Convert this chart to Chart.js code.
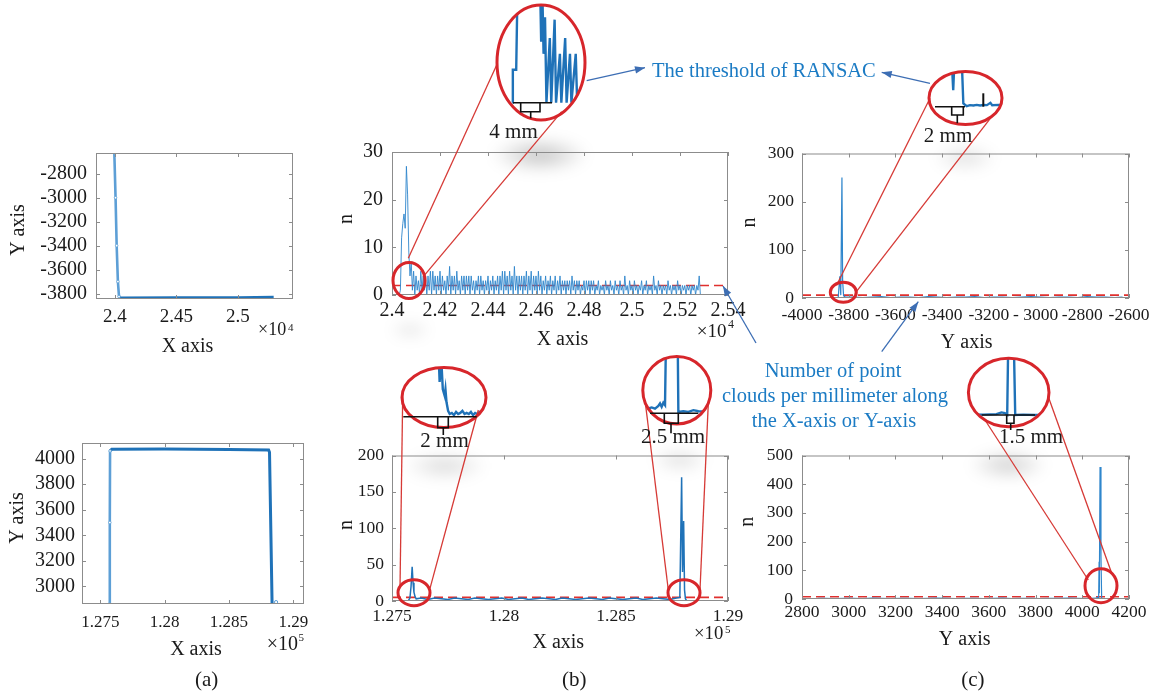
<!DOCTYPE html>
<html>
<head>
<meta charset="utf-8">
<script src="https://cdn.jsdelivr.net/npm/chart.js@4.4.0/dist/chart.umd.min.js"></script>
<style>
  body { margin:0; background:#fff; }
  #fig { position:relative; width:1160px; height:699px; overflow:hidden; background:#fff; }
  .inset { position:absolute; clip-path:ellipse(50% 50% at 50% 50%); background:#fff; z-index:5; }
  .smudge { position:absolute; border-radius:50%; filter:blur(7px); }
  #overlay { position:absolute; left:0; top:0; z-index:10; pointer-events:none; }
</style>
</head>
<body>
<div id="fig"><canvas id="overlay" width="1160" height="699"></canvas></div>
<script>
// ---------- data (mm and counts) ----------

// (a) top: point cloud of the corner, X / Y in mm
var aTopWallX  = [23995, 24005, 24014, 24024, 24033];
var aTopWallY  = [-2627, -3000, -3400, -3700, -3825];
var aTopFloorX = [24033, 24045, 24500, 25000, 25290];
var aTopFloorY = [-3825, -3836, -3835, -3834, -3830];

// (a) bottom: point cloud of the frame
var aBotLeftX  = [127572, 127574, 127576];
var aBotLeftY  = [2863, 3500, 4060];
var aBotEdgeX  = [127576, 127590, 128000, 128500, 128808, 128815, 128835];
var aBotEdgeY  = [4060, 4074, 4075, 4072, 4068, 4050, 2863];
var aBotStrayX = [128866];
var aBotStrayY = [2878];

// (b) top: points per mm along X, 5 mm bins starting at 24030
var bTopStart = 24030, bTopStep = 5;
var bTopN = [
  0,1,12,15,17,14,27,21,9,4,7,1,5,0,4,1,3,0,5,1,
  4,1,4,0,4,1,5,0,5,1,4,0,4,1,5,0,4,1,3,0,
  4,1,6,0,4,1,4,0,5,1,3,0,4,1,4,0,4,1,4,0,
  4,1,3,0,3,1,4,0,4,1,3,0,3,1,4,0,3,1,4,0,
  3,1,4,0,4,1,5,0,5,1,4,0,5,1,4,0,6,1,4,0,
  4,1,4,0,4,1,5,0,4,1,5,0,4,1,4,0,5,1,4,0,
  3,1,4,0,3,1,4,0,3,1,4,0,3,1,4,0,3,1,3,0,
  3,1,3,0,4,1,3,0,3,1,3,0,2,1,3,0,3,1,3,0,
  3,1,3,0,2,1,3,0,2,1,2,0,3,1,2,0,3,1,2,0,
  3,1,2,0,3,1,2,0,4,1,2,0,3,1,2,0,3,1,2,0,
  2,1,3,0,2,1,3,0,2,1,2,0,4,1,2,0,3,1,2,0,
  2,1,2,0,3,1,2,0,2,1,2,0,3,1,2,0,2,1,2,0,
  2,1,2,0,2,1,2,0,2,1,4,0
];
var bTopThreshold = 2;

// (b) bottom: points per mm along X
var bBotX = [127572,127580,127585,127590,127594,127598,127603,127608,
  127630,127660,127690,127720,127750,127780,127810,127840,127870,127900,
  127930,127960,127990,128020,128050,128080,128110,128140,128170,128200,
  128230,128260,128290,128320,128350,128380,128410,128440,128470,128500,
  128530,128560,128590,128620,128650,128680,128710,128740,128770,
  128785,128793,128797,128802,128806,128810,128816,128830];
var bBotN = [0,4,20,47,25,12,6,3,
  4,2,4,3,2,4,3,2,4,3,
  2,3,4,2,3,4,2,3,4,3,
  2,4,3,2,3,4,3,2,4,3,
  2,3,4,2,3,4,3,2,4,
  5,170,40,110,15,3,0,0];
var bBotThreshold = 5;

// (c) top: points per mm along Y
var cTopY = [-3850,-3845,-3838,-3834,-3829,-3826,-3822,-3815,
  -3780,-3740,-3700,-3660,-3620,-3580,-3540,-3500,-3460,-3420,-3380,-3340,
  -3300,-3260,-3220,-3180,-3140,-3100,-3060,-3020,-2980,-2940,-2900,-2860,
  -2820,-2780,-2740,-2700,-2660,-2630,-2625];
var cTopN = [0,1,45,6,250,35,5,2,
  2,1,2,3,1,2,2,1,3,2,1,2,
  2,3,1,2,2,1,2,3,2,1,2,2,
  1,3,2,2,1,2,0];
var cTopThreshold = 6;

// (c) bottom: points per mm along Y
var cBotY = [2860,2870,2900,2940,2980,3020,3060,3100,3140,3180,3220,3260,
  3300,3340,3380,3420,3460,3500,3540,3580,3620,3660,3700,3740,3780,3820,
  3860,3900,3940,3980,4020,4040,4060,4066,4070,4072,4073,4076,4080,4083,4095];
var cBotN = [0,2,2,1,2,2,1,3,2,1,2,2,
  1,2,3,2,1,2,2,1,2,3,1,2,2,1,
  2,2,3,2,1,2,3,6,1,130,20,460,150,0,0];
var cBotThreshold = 8;

// magnified views (relative mm, n)
var insB1X = [3.2,3.3,4.0,4.3,8.96,9.2,9.4,9.7,10.0,10.3,11.0,11.3,12.0,12.3,13.1,13.4,14.2,14.5,15.2,15.5,16.4,16.7,17.5];
var insB1N = [0,2.7,2.7,10,10,5,10,4,7,0,5.3,0,6.8,0,4.0,0,5.3,0,4.0,0,4.0,0,0];
var insB2X = [6.9,7.1,7.4,7.7,8.05,8.2,8.4,8.7,9.0,9.4,9.8,10.2,10.6,11.0,11.4,11.8,12.2,12.6,13.0,13.4,13.8,14.2,14.6,15.0,15.5];
var insB2N = [60,33,55,26,20,26,14,6,3,4,2,5,3,4,6,3,4,3,5,2,4,3,5,4,3];
var insB3X = [0.5,0.95,1.55,2.14,2.74,3.04,3.33,3.63,3.93,4.11,6.19,6.31,7.2,8.1,9.0,9.9,11];
var insB3N = [3,3.8,4.6,3.6,5.7,7.7,5.1,8.2,6.4,60,60,1.2,1.7,1.2,2.5,1.7,1.5];
var insC1X = [3.5,3.86,4.14,4.37,5.58,5.87,6.44,7.0,7.59,8.16,8.74,9.3,9.9,10.5,10.8,11.9,12.5];
var insC1N = [50,50,16.7,50,50,3.4,0.7,1.7,1.4,2.0,1.4,1.8,1.7,4.0,1.7,2.0,1.8];
var insC2X = [0,3.06,4.42,5.78,6.8,7.48,7.96,8.16,9.32,9.59,11.2,13.6,16.4];
var insC2N = [0.8,0.7,1.0,1.3,3.0,2.3,0.7,70,70,0.3,0.7,0.3,0.5];

// ---------- helpers ----------
var FONT = '"Liberation Serif", "Times New Roman", serif';
var BLUE = '#1f72b8', MIDBLUE = '#2f86cc', LIGHTBLUE = '#5d9fd6', RED = '#e0302e';
Chart.defaults.font.family = FONT;

var pts = function(xs, ys){
    var out = [];
    for (var i = 0; i < xs.length; i++) out.push({x: xs[i], y: ys[i]});
    return out;
};
var binPts = function(start, step, ns){
    var out = [];
    for (var i = 0; i < ns.length; i++) out.push({x: start + i*step, y: ns[i]});
    return out;
};
var lineSet = function(data, color, width){
    return {data: data, borderColor: color, borderWidth: width, pointRadius: 0, fill: false, tension: 0};
};
var threshSet = function(xmin, xmax, v){
    return {data: [{x: xmin, y: v}, {x: xmax, y: v}], borderColor: RED, borderWidth: 1.6,
            borderDash: [9, 5], pointRadius: 0, fill: false};
};

// matlab style box with inward ticks
var boxPlugin = {
    id: 'box',
    afterDraw: function(chart){
        var ctx = chart.ctx, a = chart.chartArea, sx = chart.scales.x, sy = chart.scales.y;
        ctx.save();
        ctx.strokeStyle = '#8c8c8c';
        ctx.lineWidth = 1;
        ctx.strokeRect(a.left + 0.5, a.top + 0.5, a.right - a.left - 1, a.bottom - a.top - 1);
        ctx.beginPath();
        sx.ticks.forEach(function(t){
            var p = Math.round(sx.getPixelForValue(t.value)) + 0.5;
            ctx.moveTo(p, a.bottom); ctx.lineTo(p, a.bottom - 4);
            ctx.moveTo(p, a.top); ctx.lineTo(p, a.top + 4);
        });
        sy.ticks.forEach(function(t){
            var p = Math.round(sy.getPixelForValue(t.value)) + 0.5;
            ctx.moveTo(a.left, p); ctx.lineTo(a.left + 4, p);
            ctx.moveTo(a.right, p); ctx.lineTo(a.right - 4, p);
        });
        ctx.stroke();
        ctx.restore();
    }
};

var fig = document.getElementById('fig');

var mainChart = function(p){
    var YW = 70, PT = 12, PR = 34, XH = 34;
    var w = p.box[2] - p.box[0], h = p.box[3] - p.box[1];
    var cv = document.createElement('canvas');
    cv.width = Math.round(w + YW + PR);
    cv.height = Math.round(h + PT + XH);
    cv.style.position = 'absolute';
    cv.style.left = (p.box[0] - YW) + 'px';
    cv.style.top = (p.box[1] - PT) + 'px';
    fig.appendChild(cv);
    new Chart(cv, {
        type: 'line',
        data: {datasets: p.datasets},
        options: {
            responsive: false, animation: false, events: [],
            layout: {padding: {top: PT, right: cv.width - YW - w, left: 0, bottom: 0}},
            plugins: {legend: {display: false}, tooltip: {enabled: false}},
            scales: {
                x: {
                    type: 'linear', min: p.x.min, max: p.x.max,
                    grid: {display: false, drawTicks: false}, border: {display: false},
                    afterBuildTicks: function(s){ s.ticks = p.x.ticks.map(function(v){ return {value: v}; }); },
                    afterFit: function(s){ s.height = cv.height - PT - h; },
                    ticks: {autoSkip: false, maxRotation: 0, minRotation: 0, padding: p.x.pad, color: '#1a1a1a',
                            font: {family: FONT, size: p.x.size},
                            callback: function(v, i){ return p.x.labels[i]; }}
                },
                y: {
                    type: 'linear', min: p.y.min, max: p.y.max,
                    grid: {display: false, drawTicks: false}, border: {display: false},
                    afterBuildTicks: function(s){ s.ticks = p.y.ticks.map(function(v){ return {value: v}; }); },
                    afterFit: function(s){ s.width = YW; },
                    ticks: {autoSkip: false, padding: p.y.pad, color: '#1a1a1a',
                            font: {family: FONT, size: p.y.size},
                            callback: function(v, i){ return p.y.labels[i]; }}
                }
            }
        },
        plugins: [boxPlugin]
    });
};

var insetChart = function(p){
    var div = document.createElement('div');
    div.className = 'inset';
    var w = Math.round(2*p.rx), h = Math.round(2*p.ry);
    div.style.left = (p.cx - w/2) + 'px';
    div.style.top = (p.cy - h/2) + 'px';
    div.style.width = w + 'px';
    div.style.height = h + 'px';
    var cv = document.createElement('canvas');
    cv.width = w; cv.height = h;
    div.appendChild(cv);
    fig.appendChild(div);
    new Chart(cv, {
        type: 'line',
        data: {datasets: [lineSet(pts(p.xs, p.ns), BLUE, 2.4)]},
        options: {
            responsive: false, animation: false, events: [],
            layout: {padding: 0},
            plugins: {legend: {display: false}, tooltip: {enabled: false}},
            scales: {
                x: {type: 'linear', display: false, min: p.xr[0], max: p.xr[1]},
                y: {type: 'linear', display: false, min: p.yr[0], max: p.yr[1]}
            }
        }
    });
};

// soft grey smudges present in the scanned figure
var smudges = [[540,155,100,36,0.24],[410,330,44,20,0.10],[445,466,86,30,0.14],
               [680,460,60,26,0.12],[965,158,66,28,0.12],[1008,465,80,32,0.18]];
smudges.forEach(function(s){
    var d = document.createElement('div');
    d.className = 'smudge';
    d.style.left = (s[0] - s[2]/2) + 'px';
    d.style.top = (s[1] - s[3]/2) + 'px';
    d.style.width = s[2] + 'px';
    d.style.height = s[3] + 'px';
    d.style.background = 'radial-gradient(ellipse at center, rgba(0,0,0,' + s[4] + ') 0%, rgba(0,0,0,0) 70%)';
    fig.appendChild(d);
});

// ---------- panels ----------
var wallStyle = {pointRadius: 1.3, pointBackgroundColor: '#fff', pointBorderColor: LIGHTBLUE, pointBorderWidth: 0.8};
mainChart({
    box: [96, 144, 293, 299],
    x: {min: 23846, max: 25447, ticks: [24000, 24500, 25000], labels: ['2.4', '2.45', '2.5'], size: 19, pad: 7},
    y: {min: -3845, max: -2627, ticks: [-3800, -3600, -3400, -3200, -3000, -2800],
        labels: ['-3800', '-3600', '-3400', '-3200', '-3000', '-2800'], size: 20, pad: 9},
    datasets: [
        Object.assign(lineSet(pts(aTopWallX, aTopWallY), LIGHTBLUE, 2.6), wallStyle),
        lineSet(pts(aTopFloorX, aTopFloorY), BLUE, 3)
    ]
});
mainChart({
    box: [82, 436, 304, 604],
    x: {min: 127358, max: 129083, ticks: [127500, 128000, 128500, 129000], labels: ['1.275', '1.28', '1.285', '1.29'], size: 17, pad: 8},
    y: {min: 2863, max: 4122, ticks: [3000, 3200, 3400, 3600, 3800, 4000],
        labels: ['3000', '3200', '3400', '3600', '3800', '4000'], size: 20, pad: 7},
    datasets: [
        Object.assign(lineSet(pts(aBotLeftX, aBotLeftY), LIGHTBLUE, 2.6), wallStyle),
        lineSet(pts(aBotEdgeX, aBotEdgeY), BLUE, 3),
        {data: pts(aBotStrayX, aBotStrayY), showLine: false, pointRadius: 1.6, pointBorderColor: LIGHTBLUE, pointBackgroundColor: '#fff', pointBorderWidth: 1}
    ]
});
mainChart({
    box: [392, 143, 728, 295],
    x: {min: 24000, max: 25400, ticks: [24000, 24200, 24400, 24600, 24800, 25000, 25200, 25400],
        labels: ['2.4', '2.42', '2.44', '2.46', '2.48', '2.5', '2.52', '2.54'], size: 20, pad: 4},
    y: {min: 0, max: 30, ticks: [0, 10, 20, 30], labels: ['0', '10', '20', '30'], size: 20, pad: 9},
    datasets: [
        lineSet(binPts(bTopStart, bTopStep, bTopN), MIDBLUE, 0.9),
        threshSet(24000, 25400, bTopThreshold)
    ]
});
mainChart({
    box: [392, 449, 728, 601],
    x: {min: 127500, max: 129000, ticks: [127500, 128000, 128500, 129000], labels: ['1.275', '1.28', '1.285', '1.29'], size: 17.5, pad: 5},
    y: {min: 0, max: 200, ticks: [0, 50, 100, 150, 200], labels: ['0', '50', '100', '150', '200'], size: 17.5, pad: 8},
    datasets: [
        lineSet(pts(bBotX, bBotN), BLUE, 1.5),
        threshSet(127500, 129000, bBotThreshold)
    ]
});
mainChart({
    box: [802, 147, 1129, 298],
    x: {min: -4000, max: -2600, ticks: [-4000, -3800, -3600, -3400, -3200, -3000, -2800, -2600],
        labels: ['-4000', '-3800', '-3600', '-3400', '-3200', '- 3000', '-2800', '-2600'], size: 17.5, pad: 7},
    y: {min: 0, max: 300, ticks: [0, 100, 200, 300], labels: ['0', '100', '200', '300'], size: 17.5, pad: 8},
    datasets: [
        lineSet(pts(cTopY, cTopN), MIDBLUE, 1.2),
        threshSet(-4000, -2600, cTopThreshold)
    ]
});
mainChart({
    box: [802, 448, 1129, 599],
    x: {min: 2800, max: 4200, ticks: [2800, 3000, 3200, 3400, 3600, 3800, 4000, 4200],
        labels: ['2800', '3000', '3200', '3400', '3600', '3800', '4000', '4200'], size: 17.5, pad: 3},
    y: {min: 0, max: 500, ticks: [0, 100, 200, 300, 400, 500], labels: ['0', '100', '200', '300', '400', '500'], size: 17.5, pad: 9},
    datasets: [
        lineSet(pts(cBotY, cBotN), MIDBLUE, 1.2),
        threshSet(2800, 4200, cBotThreshold)
    ]
});

// magnified views
var insets = [
    {cx: 541,   cy: 62.5,  rx: 44,   ry: 57.5, xr: [0, 18.33], yr: [-1.42, 8],   xs: insB1X, ns: insB1N},
    {cx: 444,   cy: 397.5, rx: 42,   ry: 30,   xr: [0, 15.85], yr: [-10.1, 46],  xs: insB2X, ns: insB2N},
    {cx: 676.8, cy: 390.3, rx: 34,   ry: 33.7, xr: [0, 12.14], yr: [-8.2, 43.6], xs: insB3X, ns: insB3N},
    {cx: 965.5, cy: 98,    rx: 36.5, ry: 26.5, xr: [0, 12.48], yr: [-18.3, 35.1], xs: insC1X, ns: insC1N},
    {cx: 1008.7,cy: 392.5, rx: 40.3, ry: 34.2, xr: [0, 16.45], yr: [-11.7, 56.7], xs: insC2X, ns: insC2N}
];
insets.forEach(insetChart);

// ---------- annotations ----------
var ov = document.getElementById('overlay').getContext('2d');

var smallRings = [[409, 280.5, 16, 18], [414, 592.7, 16, 13], [684, 592.7, 16, 13], [843.3, 292.3, 13, 10], [1101, 585.7, 16, 17]];
var connectors = [
    [408.3, 258.3, 496.7, 65], [423.3, 276.7, 561.7, 111.7],
    [400, 588.3, 402.7, 396.7], [430, 588.3, 478.3, 410],
    [668.3, 590, 645, 400], [700, 590, 708.3, 403.3],
    [836.7, 285, 930, 98.3], [855, 293.3, 991.7, 116.7],
    [1088.3, 580, 985, 420], [1111.7, 573.3, 1048.3, 396.7]
];

ov.strokeStyle = '#d63a36';
ov.lineWidth = 1.3;
connectors.forEach(function(c){
    ov.beginPath(); ov.moveTo(c[0], c[1]); ov.lineTo(c[2], c[3]); ov.stroke();
});
ov.strokeStyle = '#d7262b';
ov.lineWidth = 3;
insets.forEach(function(e){
    ov.beginPath(); ov.ellipse(e.cx, e.cy, e.rx, e.ry, 0, 0, Math.PI*2); ov.stroke();
});
smallRings.forEach(function(e){
    ov.beginPath(); ov.ellipse(e[0], e[1], e[2], e[3], 0, 0, Math.PI*2); ov.stroke();
});

// baselines and brackets inside the magnified views
var brackets = [
    // baseline x1, x2, y ; bracket left, right, bottom ; stem x, stem bottom
    [513, 552, 102.7, 520.7, 540, 111.7, 530.7, 118.3],
    [935, 965, 106.7, 951.7, 963.3, 115, 957.3, 123.3],
    [403.3, 476.7, 416.7, 437.7, 448.3, 427.7, 443.3, 435],
    [650, 698.3, 413.3, 664.3, 678.3, 423.3, 671, 433.3],
    [981.7, 1035, 415, 1006.7, 1014, 423.3, 1010.7, 430]
];
ov.strokeStyle = '#111';
ov.lineWidth = 1.6;
brackets.forEach(function(b){
    ov.beginPath();
    ov.moveTo(b[0], b[2]); ov.lineTo(b[1], b[2]);
    ov.moveTo(b[3], b[2]); ov.lineTo(b[3], b[5]); ov.lineTo(b[4], b[5]); ov.lineTo(b[4], b[2]);
    ov.moveTo(b[6], b[5]); ov.lineTo(b[6], b[7]);
    ov.stroke();
});
ov.beginPath(); ov.moveTo(983.3, 93.3); ov.lineTo(983.3, 106.7); ov.lineWidth = 2; ov.stroke();

// arrows
var arrow = function(x1, y1, x2, y2){
    ov.beginPath(); ov.moveTo(x1, y1); ov.lineTo(x2, y2); ov.stroke();
    var a = Math.atan2(y2 - y1, x2 - x1), L = 10, W = 3.6;
    ov.beginPath();
    ov.moveTo(x2, y2);
    ov.lineTo(x2 - L*Math.cos(a) + W*Math.sin(a), y2 - L*Math.sin(a) - W*Math.cos(a));
    ov.lineTo(x2 - L*Math.cos(a) - W*Math.sin(a), y2 - L*Math.sin(a) + W*Math.cos(a));
    ov.closePath(); ov.fill();
};
ov.strokeStyle = '#3d6eb4';
ov.fillStyle = '#3d6eb4';
ov.lineWidth = 1.3;
arrow(586.7, 80.7, 645, 67.7);
arrow(930, 83.3, 881.7, 72.3);
arrow(756, 343, 723, 286);
arrow(881.7, 351.7, 918.3, 301.7);

// texts
var text = function(s, x, y, size, align, color){
    ov.font = size + 'px ' + FONT;
    ov.textAlign = align;
    ov.textBaseline = 'alphabetic';
    ov.fillStyle = color || '#1a1a1a';
    ov.fillText(s, x, y);
};
var vtext = function(s, x, y, size){
    ov.save();
    ov.translate(x, y);
    ov.rotate(-Math.PI/2);
    ov.font = size + 'px ' + FONT;
    ov.textAlign = 'center';
    ov.textBaseline = 'middle';
    ov.fillStyle = '#1a1a1a';
    ov.fillText(s, 0, 0);
    ov.restore();
};
var times10 = function(x, y, size, exp, ex, ey, esize){
    text('\u00d710', x, y, size, 'left');
    text(exp, ex, ey, esize, 'left');
};

text('X axis', 187.5, 351.5, 20, 'center');
vtext('Y axis', 19, 230, 20);
times10(258, 335, 18, '4', 288, 330.5, 11);
text('X axis', 196, 655, 20, 'center');
vtext('Y axis', 17.5, 518, 20);
times10(266.7, 650, 20, '5', 298.5, 641, 11);

text('X axis', 562.5, 345, 20, 'center');
vtext('n', 346.7, 219, 20);
times10(696.7, 336.7, 19, '4', 728, 328.3, 12);
text('X axis', 558.3, 648.3, 20, 'center');
vtext('n', 346.5, 525, 20);
times10(694, 639.3, 18.7, '5', 725, 633, 11);

text('Y axis', 966.7, 348.3, 20, 'center');
vtext('n', 750, 222.5, 20);
text('Y axis', 964.7, 645, 20, 'center');
vtext('n', 748, 521.7, 20);

text('(a)', 206.7, 686, 21, 'center');
text('(b)', 574.3, 686, 21, 'center');
text('(c)', 972.8, 686, 21, 'center');

text('4 mm', 513.5, 138, 21, 'center');
text('2 mm', 948, 141.7, 21, 'center');
text('2 mm', 444.5, 446.7, 21, 'center');
text('2.5 mm', 673, 442.7, 21, 'center');
text('1.5 mm', 1031, 443.3, 21, 'center');

text('The threshold of RANSAC', 652, 77, 20.5, 'left', '#1b7bc4');
text('Number of point', 833, 376.7, 20.5, 'center', '#1b7bc4');
text('clouds per millimeter along', 835, 401.7, 20.5, 'center', '#1b7bc4');
text('the X-axis or Y-axis', 834, 426.7, 20.5, 'center', '#1b7bc4');
</script>
</body>
</html>
